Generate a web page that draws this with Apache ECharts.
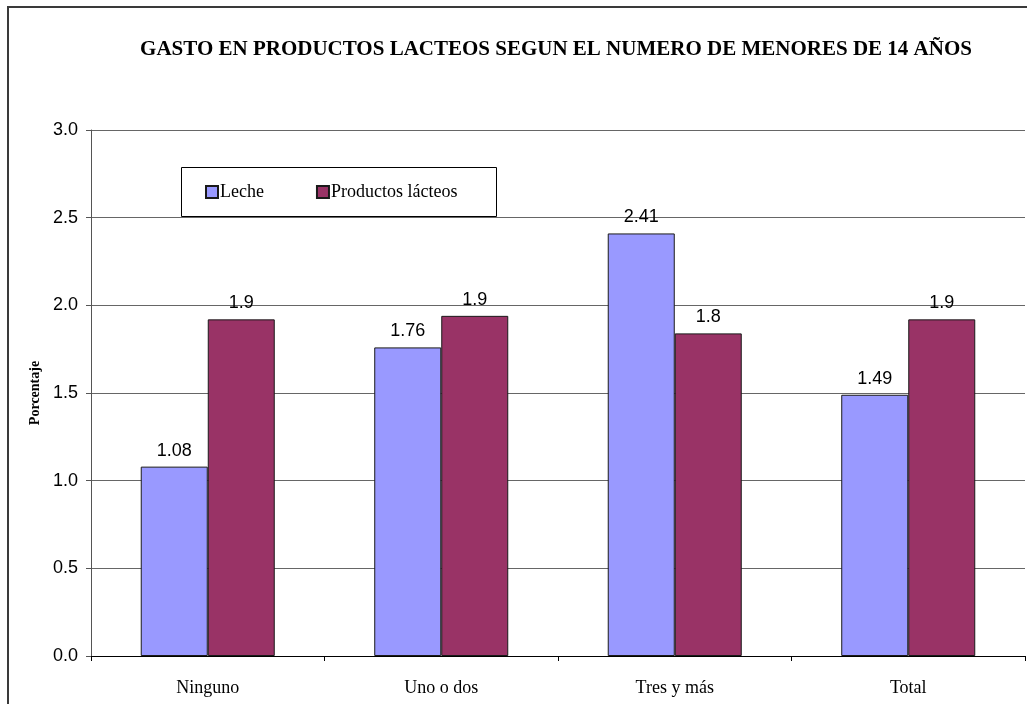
<!DOCTYPE html>
<html>
<head>
<meta charset="utf-8">
<script src="https://cdn.jsdelivr.net/npm/echarts@6/dist/echarts.min.js"></script>
<style>
  html, body { margin: 0; padding: 0; background: #fff; }
  #chart { width: 1027px; height: 704px; }
</style>
</head>
<body>
<div id="chart"></div>
<script>
// Gasto en productos lácteos según el número de menores de 14 años
const categories = ['Ninguno', 'Uno o dos', 'Tres y más', 'Total'];
const leche = [1.08, 1.76, 2.41, 1.49];
const productosLacteos = [1.92, 1.94, 1.84, 1.92];
const seriesNames = ['Leche', 'Productos lácteos'];
const titleText = 'GASTO EN PRODUCTOS LACTEOS SEGUN EL NUMERO DE MENORES DE 14 AÑOS';
const yAxisName = 'Porcentaje';

const serif = '"Liberation Serif", "Times New Roman", serif';
const sans = '"Liberation Sans", Arial, sans-serif';

const chart = echarts.init(document.getElementById('chart'), null, { renderer: 'canvas' });

chart.setOption({
  animation: false,
  backgroundColor: '#fff',
  title: {
    text: titleText,
    left: 551,
    top: 34,
    textAlign: 'center',
    textStyle: { fontFamily: serif, fontWeight: 'bold', fontSize: 21, color: '#000' }
  },
  graphic: [
    // outer frame of the chart area
    { type: 'rect', shape: { x: 8, y: 7, width: 1040, height: 720 },
      style: { fill: 'none', stroke: '#3a3a3a', lineWidth: 2 }, z: 100 },
    // legend frame
    { type: 'rect', shape: { x: 181.5, y: 167.5, width: 315, height: 49 },
      style: { fill: '#fff', stroke: '#000', lineWidth: 1 }, z: 5 }
  ],
  legend: {
    data: seriesNames,
    left: 205,
    top: 183,
    padding: 0,
    itemWidth: 12,
    itemHeight: 12,
    itemGap: 52,
    icon: 'rect',
    z: 10,
    textStyle: { fontFamily: serif, fontSize: 18, color: '#000', padding: [0, 0, 0, -3] }
  },
  grid: { left: 91, right: 2, top: 130, bottom: 48, containLabel: false },
  xAxis: {
    type: 'category',
    data: categories,
    axisLine: { lineStyle: { color: '#000', width: 1 } },
    axisTick: { show: true, length: 5, lineStyle: { color: '#000' } },
    axisLabel: { fontFamily: serif, fontSize: 18, color: '#000', margin: 23 }
  },
  yAxis: {
    type: 'value',
    min: 0,
    max: 3,
    interval: 0.5,
    name: yAxisName,
    nameLocation: 'middle',
    nameGap: 49,
    nameRotate: 90,
    nameTextStyle: { fontFamily: serif, fontWeight: 'bold', fontSize: 14, color: '#000' },
    axisLine: { show: true, lineStyle: { color: '#555', width: 1 } },
    axisTick: { show: true, length: 5, lineStyle: { color: '#555' } },
    axisLabel: {
      fontFamily: sans, fontSize: 18, color: '#000', margin: 13,
      formatter: v => v.toFixed(1)
    },
    splitLine: { show: true, lineStyle: { color: '#666', width: 1 } }
  },
  series: [
    {
      name: seriesNames[0],
      type: 'bar',
      data: leche,
      barGap: '0%',
      barCategoryGap: '42.6%',
      itemStyle: { color: '#9999FF', borderColor: '#1a1a1a', borderWidth: 1 },
      label: {
        show: true, position: 'top', distance: 7,
        fontFamily: sans, fontSize: 18, color: '#000',
        formatter: p => p.value.toFixed(2)
      }
    },
    {
      name: seriesNames[1],
      type: 'bar',
      data: productosLacteos,
      itemStyle: { color: '#993366', borderColor: '#1a1a1a', borderWidth: 1 },
      label: {
        show: true, position: 'top', distance: 7,
        fontFamily: sans, fontSize: 18, color: '#000',
        formatter: p => p.value.toFixed(1)
      }
    }
  ]
});
</script>
</body>
</html>
